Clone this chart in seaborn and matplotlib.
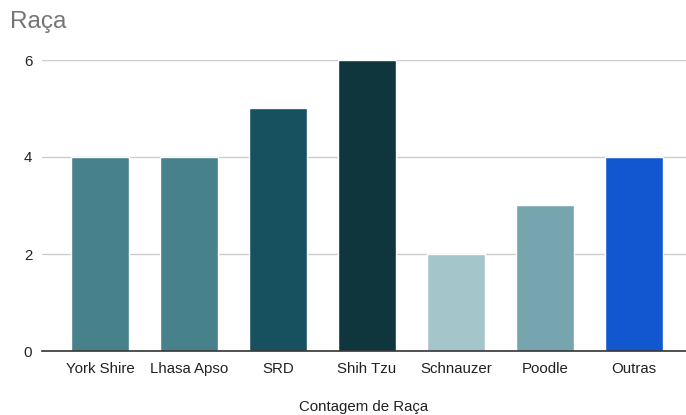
import matplotlib
matplotlib.use("Agg")
import matplotlib.pyplot as plt
import seaborn as sns
import pandas as pd

categories = ["York Shire", "Lhasa Apso", "SRD", "Shih Tzu", "Schnauzer", "Poodle", "Outras"]
values = [4, 4, 5, 6, 2, 3, 4]
colors = ["#46818C", "#46818C", "#17505E", "#0F353D", "#A4C5C9", "#76A5B0", "#1257D0"]
y_ticks = [0, 2, 4, 6]

sns.set_style("white")
plt.rcParams["font.family"] = ["Liberation Sans", "DejaVu Sans"]

df = pd.DataFrame({"cat": categories, "val": values})

fig = plt.figure(figsize=(6.86, 4.15), dpi=100)
ax = fig.add_axes([42 / 686, (415 - 351) / 415, (686 - 42) / 686, (351 - 60) / 415])

sns.barplot(data=df, x="cat", y="val", hue="cat", palette=colors, legend=False,
            width=0.66, ax=ax, saturation=1)

ax.set_xlim((42 - 100) / 89, (686 - 100) / 89)
ax.set_ylim(0, 6)
ax.set_yticks(y_ticks)
ax.yaxis.grid(True, color="#CCCCCC", linewidth=1)
ax.set_axisbelow(True)
for s in ["top", "right", "left"]:
    ax.spines[s].set_visible(False)
ax.spines["bottom"].set_color("#333333")
ax.spines["bottom"].set_linewidth(1.2)
ax.tick_params(axis="both", length=0, labelsize=10.8, labelcolor="#222222")
ax.tick_params(axis="x", pad=8)
ax.tick_params(axis="y", pad=7)
ax.set_ylabel("")
ax.set_xlabel("Contagem de Raça", fontsize=10.8, color="#222222", labelpad=17)

fig.text(10 / 686, 1 - 22 / 415, "Raça", fontsize=17.5, color="#757575", va="center", ha="left")

fig.savefig("out.png", dpi=100)
